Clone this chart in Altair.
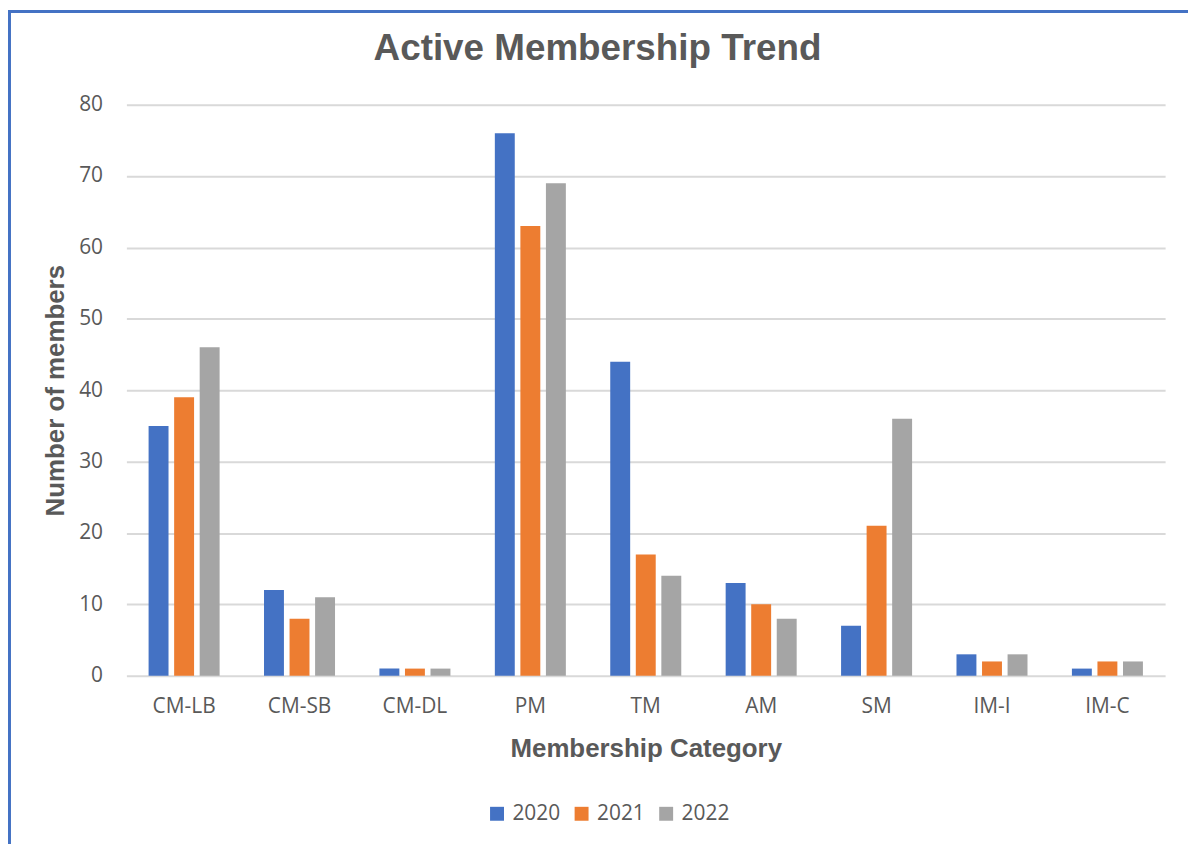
import altair as alt
import pandas as pd

categories = ["CM-LB", "CM-SB", "CM-DL", "PM", "TM", "AM", "SM", "IM-I", "IM-C"]
years = ["2020", "2021", "2022"]
v2020 = [35, 12, 1, 76, 44, 13, 7, 3, 1]
v2021 = [39, 8, 1, 63, 17, 10, 21, 2, 2]
v2022 = [46, 11, 1, 69, 14, 8, 36, 3, 2]
colors = ["#4472C4", "#ED7D31", "#A5A5A5"]
y_ticks = [0, 10, 20, 30, 40, 50, 60, 70, 80]
title_text = "Active Membership Trend"

rows = []
for i, c in enumerate(categories):
    for y, vals in zip(years, [v2020, v2021, v2022]):
        rows.append({"Category": c, "Year": y, "Members": vals[i]})
df = pd.DataFrame(rows)

W, H = 1044, 574
PL, PT = 119, 95
TOTAL_W, TOTAL_H = 1186, 838
PR = TOTAL_W - PL - W
PB = TOTAL_H - PT - H

TXT = "#595959"
FONT = "Open Sans"

bars = alt.Chart(df).mark_bar().encode(
    x=alt.X("Category:N", sort=categories,
            scale=alt.Scale(paddingInner=0.336, paddingOuter=0.168),
            axis=alt.Axis(title="Membership Category", labelAngle=0, ticks=False,
                          domain=False, labelPadding=20, labelFontSize=21,
                          labelFont=FONT, labelColor=TXT,
                          titleFont="Liberation Sans", titleFontSize=26,
                          titleFontWeight="bold", titleColor=TXT,
                          titleY=81, titleBaseline="alphabetic")),
    xOffset=alt.XOffset("Year:N", sort=years,
                        scale=alt.Scale(paddingInner=0.22, paddingOuter=0.11)),
    y=alt.Y("Members:Q", scale=alt.Scale(domain=[0, 80], nice=False),
            axis=alt.Axis(title="Number of members", values=y_ticks, ticks=False,
                          domain=False, labelPadding=24, labelFontSize=21,
                          labelFont=FONT, labelColor=TXT,
                          grid=True, gridColor="#D9D9D9", gridWidth=2,
                          titleFont="Liberation Sans", titleFontSize=26,
                          titleFontWeight="bold", titleColor=TXT,
                          titleX=-71, titleY=H / 2, titleAngle=270,
                          titleBaseline="middle", titleAlign="center")),
    color=alt.Color("Year:N", sort=years,
                    scale=alt.Scale(domain=years, range=colors),
                    legend=alt.Legend(title=None, orient="none", direction="horizontal",
                                      legendX=362, legendY=702,
                                      symbolType="square", symbolSize=196,
                                      symbolStrokeWidth=0, labelFont=FONT,
                                      labelFontSize=21, labelColor=TXT,
                                      labelOffset=5, columnPadding=10)),
)

border_df = pd.DataFrame({"a": [0]})
left_border = alt.Chart(border_df).mark_rule(color="#4472C4", strokeWidth=3).encode(
    x=alt.value(-PL + 1.5), y=alt.value(-PT), y2=alt.value(H + PB)
)
top_border = alt.Chart(border_df).mark_rule(color="#4472C4", strokeWidth=3).encode(
    x=alt.value(-PL), x2=alt.value(W + PR), y=alt.value(-PT + 1.5)
)
title_mark = alt.Chart(border_df).mark_text(
    font="Liberation Sans", fontSize=37, fontWeight="bold", color=TXT,
    align="center", baseline="alphabetic"
).encode(x=alt.value(473.5), y=alt.value(-45), text=alt.value(title_text))

chart = alt.layer(bars, left_border, top_border, title_mark).properties(
    width=W, height=H,
    autosize=alt.AutoSizeParams(type="none"),
    padding={"left": PL, "top": PT, "right": PR, "bottom": PB},
).configure_view(stroke=None)

chart.save("out.html", embed_options={"renderer": "svg", "actions": False})
